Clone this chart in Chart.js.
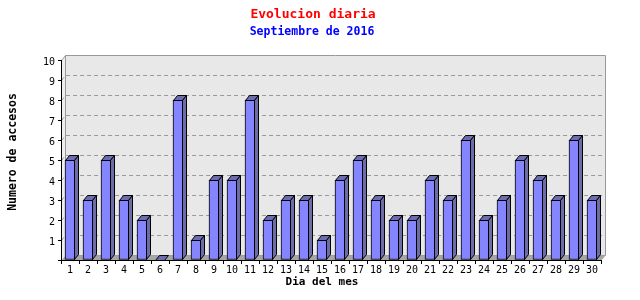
<!DOCTYPE html>
<html lang="es">
<head>
  <meta charset="UTF-8">
  <title>Evolucion diaria</title>
  <script src="https://cdn.jsdelivr.net/npm/chart.js"></script>
  <style>
    body {
      margin: 0;
      background: #fff;
    }
  </style>
</head>
<body>
  <canvas id="myChart" width="640" height="300"></canvas>

  <script>
    const chartTitle = 'Evolucion diaria';
    const chartSubtitle = 'Septiembre de 2016';
    const xTitle = 'Dia del mes';
    const yTitle = 'Numero de accesos';

    const dias = ['1', '2', '3', '4', '5', '6', '7', '8', '9', '10',
                  '11', '12', '13', '14', '15', '16', '17', '18', '19', '20',
                  '21', '22', '23', '24', '25', '26', '27', '28', '29', '30'];
    const accesos = [5, 3, 5, 3, 2, 0, 8, 1, 4, 4,
                     8, 2, 3, 3, 1, 4, 5, 3, 2, 2,
                     4, 3, 6, 2, 3, 5, 4, 3, 6, 3];

    // profundidad del efecto 3D
    const DX = 4;
    const DY = 5;
    const MONO = '"DejaVu Sans Mono", monospace';

    function poly(ctx, pts, fill, stroke) {
      ctx.beginPath();
      ctx.moveTo(pts[0][0], pts[0][1]);
      for (let i = 1; i < pts.length; i++) ctx.lineTo(pts[i][0], pts[i][1]);
      ctx.closePath();
      if (fill) { ctx.fillStyle = fill; ctx.fill(); }
      if (stroke) { ctx.strokeStyle = stroke; ctx.stroke(); }
    }

    // pared de fondo, suelo y rejilla punteada
    const fondo3d = {
      id: 'fondo3d',
      beforeDraw(chart) {
        const {ctx, chartArea: a, scales: {y}} = chart;
        const L = Math.round(a.left) + 0.5, R = Math.round(a.right) + 0.5;
        const T = Math.round(a.top) + 0.5, B = Math.round(a.bottom) + 0.5;
        ctx.save();
        ctx.lineWidth = 1;
        // pared izquierda
        poly(ctx, [[L, T], [L + DX, T - DY], [L + DX, B - DY], [L, B]], '#eeeeee', null);
        // pared del fondo
        poly(ctx, [[L + DX, T - DY], [R + DX, T - DY], [R + DX, B - DY], [L + DX, B - DY]], '#e8e8e8', '#999999');
        // suelo
        poly(ctx, [[L, B], [L + DX, B - DY], [R + DX, B - DY], [R, B]], '#a6a6a6', null);
        ctx.strokeStyle = '#999999';
        ctx.beginPath();
        ctx.moveTo(L, T); ctx.lineTo(L + DX, T - DY);
        ctx.stroke();
        // rejilla
        ctx.setLineDash([4, 3]);
        y.ticks.forEach(t => {
          if (t.value <= y.min || t.value >= y.max) return;
          const py = Math.round(y.getPixelForValue(t.value)) + 0.5;
          ctx.beginPath();
          ctx.moveTo(L, py);
          ctx.lineTo(L + DX, py - DY);
          ctx.lineTo(R + DX, py - DY);
          ctx.stroke();
        });
        ctx.restore();
      }
    };

    // caras superior y lateral de las barras
    const barras3d = {
      id: 'barras3d',
      afterDatasetsDraw(chart) {
        const {ctx} = chart;
        const meta = chart.getDatasetMeta(0);
        ctx.save();
        ctx.lineWidth = 1;
        meta.data.forEach(bar => {
          const {x, y, base, width} = bar.getProps(['x', 'y', 'base', 'width'], true);
          const l = Math.round(x - width / 2) + 0.5;
          const r = Math.round(x + width / 2) - 0.5;
          const t = Math.round(y) + 0.5;
          const b = Math.round(base) - 0.5;
          poly(ctx, [[l, t], [l + DX, t - DY], [r + DX, t - DY], [r, t]], '#6c6cae', '#000');
          if (b > t) {
            poly(ctx, [[r, t], [r + DX, t - DY], [r + DX, b - DY], [r, b]], '#6c6ca8', '#000');
          }
        });
        ctx.restore();
      }
    };

    const titulos = {
      id: 'titulos',
      afterDraw(chart) {
        const {ctx} = chart;
        ctx.save();
        ctx.textAlign = 'center';
        ctx.textBaseline = 'middle';
        ctx.font = 'bold 13px ' + MONO;
        ctx.fillStyle = '#ff0000';
        ctx.fillText(chartTitle, 313, 15);
        ctx.font = 'bold 11.5px ' + MONO;
        ctx.fillStyle = '#0000ff';
        ctx.fillText(chartSubtitle, 312, 32);
        ctx.font = 'bold 11px ' + MONO;
        ctx.fillStyle = '#000';
        ctx.fillText(xTitle, 322, 282);
        ctx.translate(13, 152);
        ctx.rotate(-Math.PI / 2);
        ctx.font = 'bold 11.5px ' + MONO;
        ctx.fillText(yTitle, 0, 0);
        ctx.restore();
      }
    };

    const ctx = document.getElementById('myChart').getContext('2d');
    new Chart(ctx, {
      type: 'bar',
      data: {
        labels: dias,
        datasets: [{
          data: accesos,
          backgroundColor: '#8585ff',
          borderColor: '#000',
          borderWidth: 1,
          borderSkipped: false,
          barThickness: 10
        }]
      },
      options: {
        responsive: false,
        animation: false,
        layout: {
          padding: { top: 60, right: 39, bottom: 0, left: 0 }
        },
        plugins: {
          legend: { display: false },
          tooltip: { enabled: false }
        },
        scales: {
          x: {
            afterFit(scale) { scale.height = 40; },
            grid: {
              display: true,
              drawOnChartArea: false,
              drawTicks: true,
              tickLength: 4,
              color: '#000',
              offset: true
            },
            border: { display: true, color: '#000' },
            ticks: {
              color: '#000',
              autoSkip: false,
              maxRotation: 0,
              padding: 0,
              font: { family: MONO, size: 10 }
            }
          },
          y: {
            min: 0,
            max: 10,
            afterFit(scale) { scale.width = 61; },
            grid: {
              drawOnChartArea: false,
              drawTicks: true,
              tickLength: 3,
              color: '#000'
            },
            border: { display: true, color: '#000' },
            ticks: {
              stepSize: 1,
              color: '#000',
              padding: 3,
              labelOffset: 2,
              font: { family: MONO, size: 10 },
              callback: v => (v === 0 ? '' : v)
            }
          }
        }
      },
      plugins: [fondo3d, barras3d, titulos]
    });
  </script>
</body>
</html>
